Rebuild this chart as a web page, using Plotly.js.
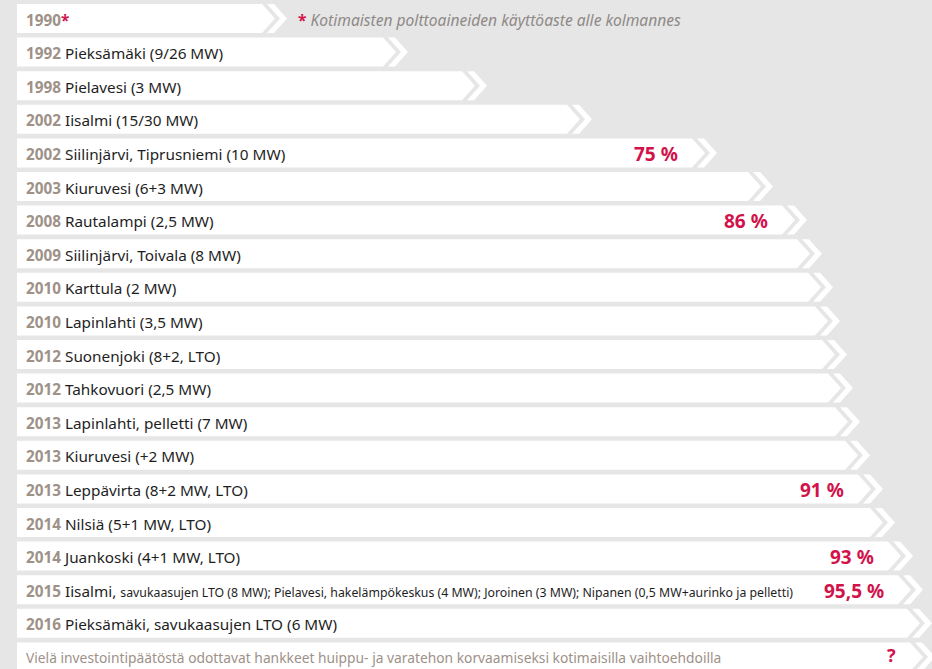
<!DOCTYPE html>
<html>
<head>
<meta charset="utf-8">
<script src="https://cdn.plot.ly/plotly-3.0.1.min.js"></script>
<style>html,body{margin:0;padding:0;background:#e6e6e6;}#chart{width:932px;height:669px;}</style>
</head>
<body>
<div id="chart"></div>
<script>
// ---- data ----
const years = ['1990','1992','1998','2002','2002','2003','2008','2009','2010','2010','2012','2012','2013','2013','2013','2014','2014','2015','2016',''];
const places = ['', 'Pieksämäki (9/26 MW)', 'Pielavesi (3 MW)', 'Iisalmi (15/30 MW)', 'Siilinjärvi, Tiprusniemi (10 MW)',
  'Kiuruvesi (6+3 MW)', 'Rautalampi (2,5 MW)', 'Siilinjärvi, Toivala (8 MW)', 'Karttula (2 MW)', 'Lapinlahti (3,5 MW)',
  'Suonenjoki (8+2, LTO)', 'Tahkovuori (2,5 MW)', 'Lapinlahti, pelletti (7 MW)', 'Kiuruvesi (+2 MW)', 'Leppävirta (8+2 MW, LTO)',
  'Nilsiä (5+1 MW, LTO)', 'Juankoski (4+1 MW, LTO)', 'Iisalmi,', 'Pieksämäki, savukaasujen LTO (6 MW)',
  'Vielä investointipäätöstä odottavat hankkeet huippu- ja varatehon korvaamiseksi kotimaisilla vaihtoehdoilla'];
const details = ['','','','','','','','','','','','','','','','','',
  'savukaasujen LTO (8 MW); Pielavesi, hakelämpökeskus (4 MW); Joroinen (3 MW); Nipanen (0,5 MW+aurinko ja pelletti)','',''];
const barLength = [245, 366, 445, 550, 675, 731, 765, 780, 791, 798, 805, 811, 818, 828, 841, 853, 871, 881, 890, 893];
const shareLabels = ['','','','','75 %','','86 %','','','','','','','','91 %','','93 %','95,5 %','','?'];
const footnote = 'Kotimaisten polttoaineiden käyttöaste alle kolmannes';

// ---- styling / geometry constants ----
const BG = '#e6e6e6', RED = '#d2124a', TAN = '#9e9188', DARK = '#1e1e1e';
const rowY = i => 18.5 + 33.6 * i;
const HALF = 14.5, TIP = 13, GAP = 5, THICK = 7;
const FONT = 'Noto Sans, Open Sans, sans-serif';

const traces = [];
barLength.forEach((L, i) => {
  const y0 = rowY(i) - HALF, y1 = rowY(i) + HALF, ym = rowY(i);
  traces.push({
    type: 'scatter', mode: 'lines', fill: 'toself', fillcolor: '#ffffff',
    line: {width: 0, color: '#ffffff'}, hoverinfo: 'skip', showlegend: false,
    x: [0, L, L + TIP, L, 0, 0], y: [y0, y0, ym, y1, y1, y0]
  });
  const a = L + GAP, b = L + GAP + THICK;
  traces.push({
    type: 'scatter', mode: 'lines', fill: 'toself', fillcolor: '#ffffff',
    line: {width: 0, color: '#ffffff'}, hoverinfo: 'skip', showlegend: false,
    x: [a, b, b + TIP, b, a, a + TIP, a], y: [y0, y0, ym, y1, y1, ym, y0]
  });
});

const annotations = [];
years.forEach((yr, i) => {
  let txt, size = 15.3;
  if (i === 0) {
    txt = `<b><span style="color:${TAN}">${yr}</span></b><span style="color:${RED}"><b>*</b></span>`;
  } else if (yr === '') {
    txt = `<span style="color:${TAN}">${places[i]}</span>`;
    size = 13.8;
  } else {
    txt = `<b><span style="color:${TAN}">${yr}</span></b> ${places[i]}`;
    if (details[i]) txt += ` <span style="font-size:12.3px">${details[i]}</span>`;
  }
  annotations.push({
    xref: 'x', yref: 'y', x: 7, y: rowY(i) + 1, xanchor: 'left', yanchor: 'middle',
    text: txt, showarrow: false, font: {family: FONT, size: size, color: DARK}
  });
  if (shareLabels[i]) {
    const last = i === years.length - 1;
    annotations.push({
      xref: 'x', yref: 'y', x: barLength[i] - 12, y: rowY(i) + (last ? -2 : 1), xanchor: 'right', yanchor: 'middle',
      text: `<b>${shareLabels[i]}</b>`, showarrow: false, font: {family: FONT, size: last ? 18 : 19, color: RED}
    });
  }
});
annotations.push({
  xref: 'x', yref: 'y', x: barLength[0] + 34, y: rowY(0) + 1, xanchor: 'left', yanchor: 'middle',
  text: `<span style="color:${RED}"><b>*</b></span> <i>${footnote}</i>`, showarrow: false,
  font: {family: FONT, size: 15.6, color: '#8f8a86'}
});

const layout = {
  width: 932, height: 669,
  margin: {l: 0, r: 0, t: 0, b: 0, pad: 0},
  paper_bgcolor: BG, plot_bgcolor: BG,
  xaxis: {range: [-17, 915], visible: false, fixedrange: true},
  yaxis: {range: [669, 0], visible: false, fixedrange: true},
  annotations: annotations,
  showlegend: false
};

Plotly.newPlot('chart', traces, layout, {displayModeBar: false, staticPlot: true});
</script>
</body>
</html>
